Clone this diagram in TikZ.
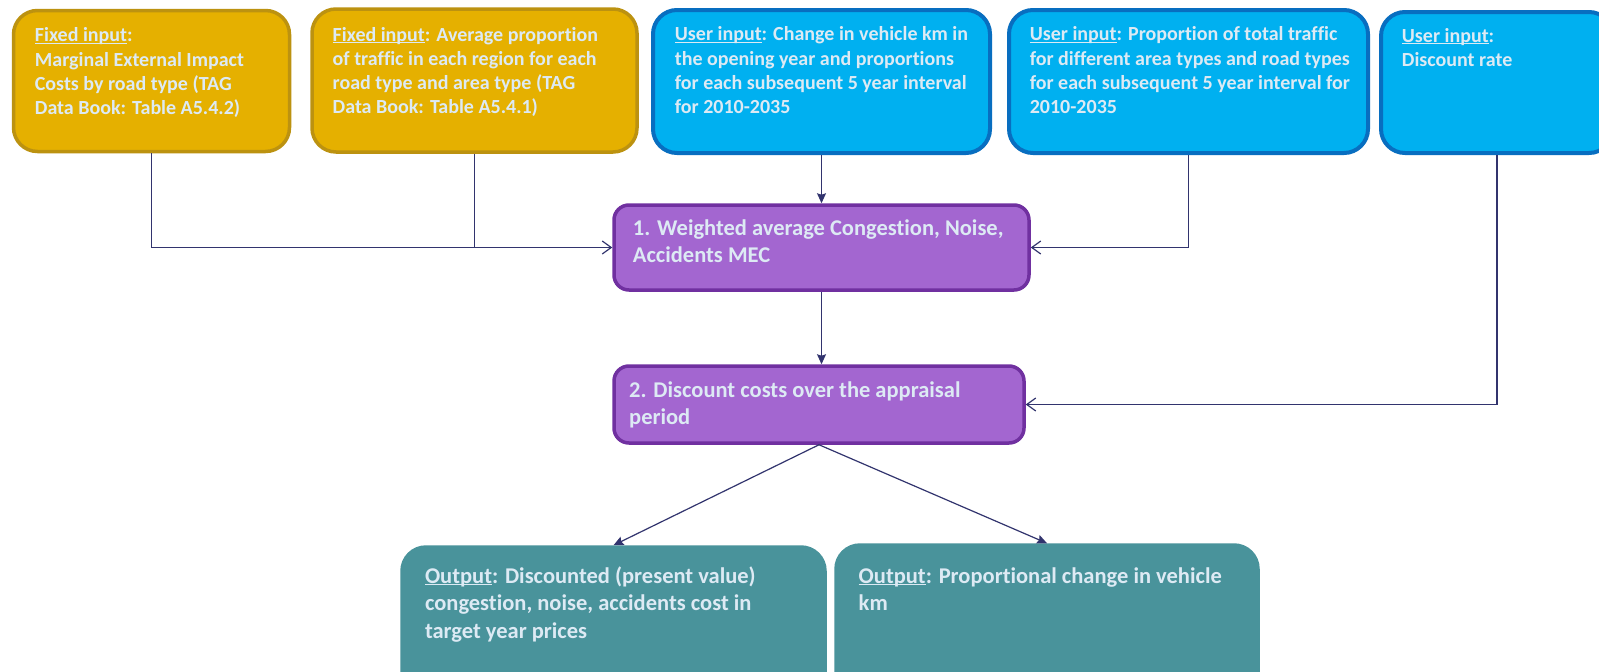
\documentclass[tikz,border=0pt]{standalone}
\usepackage{fontspec}
\setmainfont{Carlito}[Ligatures=NoCommon]
\usetikzlibrary{arrows.meta}

\definecolor{goldfill}{RGB}{229,176,0}
\definecolor{goldline}{RGB}{188,146,16}
\definecolor{bluefill}{RGB}{0,176,240}
\definecolor{blueline}{RGB}{8,110,192}
\definecolor{purpfill}{RGB}{163,102,208}
\definecolor{purpline}{RGB}{112,48,160}
\definecolor{tealfill}{RGB}{73,147,155}
\definecolor{labeltext}{RGB}{221,234,244}
\definecolor{navy}{RGB}{50,52,110}

% underline that sits just under the baseline
\newcommand{\undl}[1]{\setbox0=\hbox{#1}\rlap{\rule[-2.4pt]{\wd0}{1.3pt}}\box0}

\tikzset{
  box/.style={line width=3.5pt, inner sep=0pt},
  goldbox/.style={box, rounded corners=24pt, fill=goldfill, draw=goldline},
  bluebox/.style={box, rounded corners=24pt, fill=bluefill, draw=blueline, line width=4pt},
  purpbox/.style={box, rounded corners=15pt, fill=purpfill, draw=purpline},
  tealbox/.style={box, rounded corners=24pt, fill=tealfill, draw=tealfill},
  % labels are placed by the baseline of their last line
  lbl/.style={anchor=base west, inner sep=0pt, align=left, text=labeltext,
    font=\bfseries\fontsize{20}{24.3}\selectfont},
  biglbl/.style={lbl, font=\bfseries\fontsize{22.5}{27.8}\selectfont},
  conn/.style={draw=navy, line width=1.2pt},
  openarrow/.style={conn, -{Straight Barb[length=9pt,width=13pt]}},
  solidarrow/.style={conn, -{Stealth[length=10pt,width=9pt,inset=1.5pt]}}
}

\begin{document}
\begin{tikzpicture}[x=1pt,y=-1pt]
\useasboundingbox (0,0) rectangle (1599,672);
\clip (0,0) rectangle (1599,672);
\fill[white] (0,0) rectangle (1599,672);

% input boxes
\node[goldbox, minimum width=276pt, minimum height=141pt] (b1) at (151.5,81) {};
\node[goldbox, minimum width=325pt, minimum height=143pt] (b2) at (474.5,80.5) {};
\node[bluebox, minimum width=337pt, minimum height=143pt] (b3) at (821.5,81.5) {};
\node[bluebox, minimum width=359pt, minimum height=143pt] (b4) at (1188.5,81.5) {};
\node[bluebox, minimum width=232pt, minimum height=141pt] (b5) at (1497,82.5) {};

% processing steps
\node[purpbox, minimum width=415pt, minimum height=85pt] (p1) at (821.5,247.5) {};
\node[purpbox, minimum width=410pt, minimum height=77pt] (p2) at (819,404.5) {};

% outputs
\node[tealbox, minimum width=423pt, minimum height=153pt] (o1) at (613.5,623.5) {};
\node[tealbox, minimum width=422pt, minimum height=155pt] (o2) at (1047,622.5) {};

% labels
\node[lbl] (t1) at (34.7,114.6) {\undl{Fixed input}:\\Marginal External Impact\\Costs by road type (TAG\\Data Book: Table A5.4.2)};
\node[lbl] (t2) at (332.5,113.9) {\undl{Fixed input}: Average proportion\\of traffic in each region for each\\road type and area type (TAG\\Data Book: Table A5.4.1)};
\node[lbl] (t3) at (674.7,113.6) {\undl{User input}: Change in vehicle km in\\the opening year and proportions\\for each subsequent 5 year interval\\for 2010-2035};
\node[lbl] (t4) at (1029.6,113.6) {\undl{User input}: Proportion of total traffic\\for different area types and road types\\for each subsequent 5 year interval for\\2010-2035};
\node[lbl] (t5) at (1401.7,66.3) {\undl{User input}:\\Discount rate};
\node[biglbl] (tp1) at (632.7,262.8) {1. Weighted average Congestion, Noise,\\Accidents MEC};
\node[biglbl] (tp2) at (629,424.8) {2. Discount costs over the appraisal\\period};
\node[biglbl] (to1) at (424.8,638.6) {\undl{Output}: Discounted (present value)\\congestion, noise, accidents cost in\\target year prices};
\node[biglbl] (to2) at (858.5,610.8) {\undl{Output}: Proportional change in vehicle\\km};

% connectors
\draw[openarrow] (b1.south) |- (p1.west);
\draw[conn] (b2.south) -- (b2.south |- p1.west);
\draw[solidarrow] (b3.south) -- (p1.north);
\draw[openarrow] (b4.south) |- (p1.east);
\draw[openarrow] (b5.south) |- (p2.east);
\draw[solidarrow] (p1.south) -- (p1.south |- p2.north);
\draw[solidarrow] (p2.south) -- (o1.north);
\draw[solidarrow] (p2.south) -- (o2.north);
\end{tikzpicture}
\end{document}
